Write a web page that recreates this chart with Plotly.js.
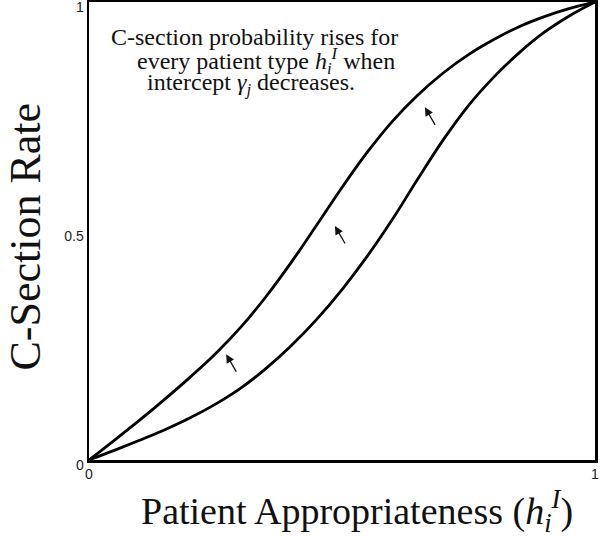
<!DOCTYPE html>
<html>
<head>
<meta charset="utf-8">
<script src="https://cdn.plot.ly/plotly-3.0.1.min.js"></script>
<style>html,body{margin:0;padding:0;background:#fff;}#chart{width:600px;height:537px;}</style>
</head>
<body>
<div id="chart"></div>
<script>
// Patient appropriateness grid (x)
const hGrid = [0, 0.05, 0.10, 0.15, 0.20, 0.25, 0.30, 0.35, 0.40, 0.45, 0.50,
               0.55, 0.60, 0.65, 0.70, 0.75, 0.80, 0.85, 0.90, 0.95, 1.00];
// Curve after the intercept decreases (higher C-section rate)
const rateAfter = [0, 0.043, 0.087, 0.133, 0.181, 0.232, 0.290, 0.357, 0.432, 0.513, 0.595,
                   0.672, 0.740, 0.797, 0.845, 0.885, 0.918, 0.946, 0.968, 0.986, 1.0];
// Baseline curve (lower C-section rate)
const rateBefore = [0, 0.021, 0.043, 0.066, 0.092, 0.122, 0.157, 0.200, 0.250, 0.307, 0.372,
                    0.445, 0.526, 0.614, 0.699, 0.774, 0.836, 0.889, 0.934, 0.970, 1.0];
// Arrow tips (data units) showing the upward shift
const arrowTipX = [0.271, 0.486, 0.664];
const arrowTipY = [0.231, 0.511, 0.770];
// Tick labels
const xTickVals = [0, 1];
const xTickText = ['0', '1'];
const yTickVals = [0, 0.5, 1];
const yTickText = ['0', '0.5', '1'];
// Text
const noteLines = [
  'C-section probability rises for',
  'every patient type <i>h</i><sub><i>i</i></sub><sup><i>I</i></sup> when',
  'intercept <i>γ</i><sub><i>j</i></sub> decreases.'
];
const xTitle = 'Patient Appropriateness (<i>h</i><sub><i>i</i></sub><sup><i>I</i></sup>)';
const yTitle = 'C-Section Rate';

const serif = 'Liberation Serif, DejaVu Serif, serif';
const lineStyle = {color: '#000', width: 2.8, shape: 'spline', smoothing: 1};

const traces = [
  {x: hGrid, y: rateAfter, mode: 'lines', line: lineStyle, hoverinfo: 'skip', showlegend: false},
  {x: hGrid, y: rateBefore, mode: 'lines', line: lineStyle, hoverinfo: 'skip', showlegend: false}
];

const plotL = 88.5, plotW = 506.5, plotB = 460, plotH = 458;
const annotations = [];
arrowTipX.forEach((ax, i) => {
  annotations.push({
    x: ax, y: arrowTipY[i], xref: 'x', yref: 'y',
    ax: 11, ay: 19, showarrow: true, arrowhead: 2, arrowsize: 1.3,
    arrowwidth: 1.3, arrowcolor: '#111', text: ''
  });
});
const noteCenters = [254, 266, 251];
const noteMids = [37, 61, 84];
noteLines.forEach((t, i) => {
  annotations.push({
    text: t, showarrow: false, xref: 'paper', yref: 'paper',
    x: (noteCenters[i] - plotL) / plotW, y: (plotB - noteMids[i]) / plotH,
    xanchor: 'center', yanchor: 'middle',
    font: {family: serif, size: 24, color: '#111'}
  });
});
// Axis titles
annotations.push({
  text: xTitle, showarrow: false, xref: 'paper', yref: 'paper',
  x: (357 - plotL) / plotW, y: (plotB - 511) / plotH,
  xanchor: 'center', yanchor: 'middle',
  font: {family: serif, size: 38, color: '#111'}
});
annotations.push({
  text: yTitle, showarrow: false, xref: 'paper', yref: 'paper', textangle: -90,
  x: (25 - plotL) / plotW, y: (plotB - 237) / plotH,
  xanchor: 'center', yanchor: 'middle',
  font: {family: serif, size: 44, color: '#111'}
});

const tickFont = {family: 'Liberation Sans, Arial, sans-serif', size: 14, color: '#222'};
const layout = {
  width: 600, height: 537,
  margin: {l: plotL, r: 600 - plotL - plotW, t: 2, b: 537 - plotB},
  paper_bgcolor: '#fff', plot_bgcolor: '#fff',
  xaxis: {
    range: [0, 1], tickvals: xTickVals, ticktext: xTickText,
    showgrid: false, zeroline: false, showline: true, mirror: true,
    linecolor: '#000', linewidth: 2.5, ticks: '', ticklabeloverflow: 'allow',
    tickfont: tickFont
  },
  yaxis: {
    range: [0, 1], tickvals: yTickVals, ticktext: yTickText,
    showgrid: false, zeroline: false, showline: true, mirror: true,
    linecolor: '#000', linewidth: 2.5, ticks: '', ticklabeloverflow: 'allow',
    ticklabelshift: 5, tickfont: tickFont
  },
  annotations: annotations
};

Plotly.newPlot('chart', traces, layout, {staticPlot: true, displayModeBar: false});
</script>
</body>
</html>
